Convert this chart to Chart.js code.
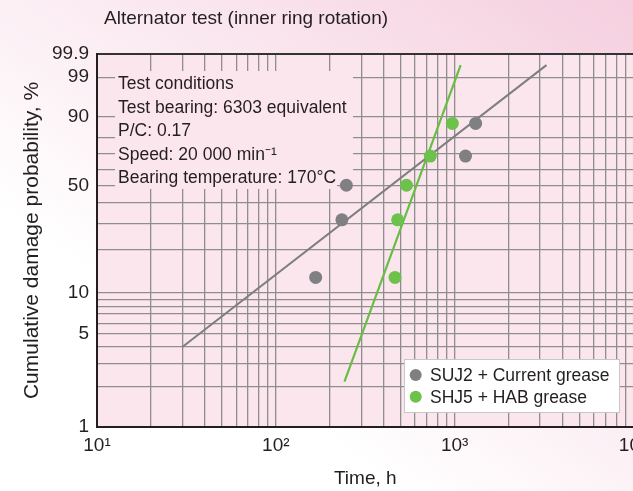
<!DOCTYPE html>
<html>
<head>
<meta charset="utf-8">
<script src="https://cdn.jsdelivr.net/npm/chart.js@4.4.1/dist/chart.umd.min.js"></script>
<style>
  html, body { margin: 0; padding: 0; overflow: hidden; }
  body { width: 633px; height: 491px; background: linear-gradient(35deg, #ffffff 30%, #f5cfdf 100%); }
</style>
</head>
<body>
<canvas id="weibull-plot" width="640" height="491"></canvas>
<script>
Chart.defaults.font.family = "'Liberation Sans', Arial, sans-serif";
Chart.defaults.color = "#231f20";

// time to damage (h) and cumulative damage probability (%)
var suj2Time = [167, 234, 248, 1150, 1310];
var suj2Prob = [12.9, 31.5, 50, 68.5, 87.1];
var shj5Time = [464, 480, 538, 731, 970];
var shj5Prob = [12.9, 31.5, 50, 68.5, 87.1];

// fitted lines, end points
var suj2FitTime = [30, 3260];
var suj2FitProb = [4.0, 99.66];
var shj5FitTime = [242, 1080];
var shj5FitProb = [2.2, 99.66];

var xGrid = [10, 20, 30, 40, 50, 60, 70, 80, 90,
             100, 200, 300, 400, 500, 600, 700, 800, 900,
             1000, 2000, 3000, 4000, 5000, 6000, 7000, 8000, 9000, 10000];
var xDecades = [10, 100, 1000, 10000];
var xLabels = ["10¹", "10²", "10³", "10⁴"];

var yGrid = [1, 2, 3, 4, 5, 6, 7, 8, 9, 10, 20, 30, 40, 50, 60, 70, 80, 90, 99, 99.9];
var yLabels = [1, 5, 10, 50, 90, 99, 99.9];

var conditions = [
    "Test conditions",
    "Test bearing: 6303 equivalent",
    "P/C: 0.17",
    "Speed: 20 000 min⁻¹",
    "Bearing temperature: 170°C"
];

var plotFill = "#fce6ee";
var textColor = "#231f20";
var gridColor = "#8e8e8e";

// Weibull probability paper: y = ln(-ln(1 - F))
function weibull(p) {
    return Math.log(-Math.log(1 - p / 100));
}

function points(t, p) {
    return t.map((x, i) => ({ x: x, y: weibull(p[i]) }));
}

var plotBackground = {
    id: "plotBackground",
    beforeDraw(chart) {
        const ctx = chart.ctx, a = chart.chartArea;
        ctx.save();
        ctx.fillStyle = plotFill;
        ctx.fillRect(a.left, a.top, a.right - a.left, a.bottom - a.top);
        ctx.fillStyle = textColor;
        ctx.font = "19px 'Liberation Sans', Arial, sans-serif";
        ctx.fillText("Alternator test (inner ring rotation)", 104, 24);
        ctx.restore();
    }
};

var conditionsBox = {
    id: "conditionsBox",
    beforeDatasetsDraw(chart) {
        const ctx = chart.ctx, a = chart.chartArea;
        const x0 = a.left + 18, y0 = a.top + 17;
        ctx.save();
        ctx.fillStyle = plotFill;
        ctx.fillRect(x0, y0, 238, 104);
        ctx.fillRect(x0, y0 + 104, 222, 14);
        ctx.fillStyle = textColor;
        ctx.font = "17.5px 'Liberation Sans', Arial, sans-serif";
        conditions.forEach((s, i) => ctx.fillText(s, x0 + 3, y0 + 18.3 + i * 23.4));
        ctx.restore();
    }
};

var legendBox = {
    id: "legendBox",
    afterDatasetsDraw(chart) {
        const ctx = chart.ctx;
        const items = chart.data.datasets.filter(d => !d.showLine);
        ctx.save();
        ctx.fillStyle = "#ffffff";
        ctx.fillRect(404, 359, 215, 53);
        ctx.strokeStyle = "#c8c8c8";
        ctx.lineWidth = 1;
        ctx.strokeRect(404.5, 359.5, 215, 53);
        ctx.font = "17.5px 'Liberation Sans', Arial, sans-serif";
        ctx.textBaseline = "middle";
        items.forEach((d, i) => {
            const y = 375 + i * 21.7;
            ctx.fillStyle = d.backgroundColor;
            ctx.beginPath();
            ctx.arc(415.7, y, 6, 0, Math.PI * 2);
            ctx.fill();
            ctx.fillStyle = textColor;
            ctx.fillText(d.label, 430, y + 1);
        });
        ctx.restore();
    }
};

new Chart(document.getElementById("weibull-plot").getContext("2d"), {
    type: "scatter",
    data: {
        datasets: [{
            label: "SUJ2 + Current grease",
            data: points(suj2Time, suj2Prob),
            backgroundColor: "#808083",
            borderWidth: 0,
            pointRadius: 6.5
        }, {
            label: "SHJ5 + HAB grease",
            data: points(shj5Time, shj5Prob),
            backgroundColor: "#6cc24a",
            borderWidth: 0,
            pointRadius: 6.5
        }, {
            label: "SUJ2 fit",
            data: points(suj2FitTime, suj2FitProb),
            showLine: true,
            borderColor: "#7e7e80",
            borderWidth: 2,
            pointRadius: 0
        }, {
            label: "SHJ5 fit",
            data: points(shj5FitTime, shj5FitProb),
            showLine: true,
            borderColor: "#68bd45",
            borderWidth: 2.2,
            pointRadius: 0
        }]
    },
    options: {
        responsive: false,
        animation: false,
        layout: {
            padding: { top: 54, right: 3, left: 0, bottom: 0 }
        },
        plugins: {
            legend: { display: false },
            tooltip: { enabled: false }
        },
        scales: {
            x: {
                type: "logarithmic",
                min: 10,
                max: 10000,
                afterBuildTicks: s => { s.ticks = xGrid.map(v => ({ value: v })); },
                afterFit: s => { s.height = 64; s.paddingLeft = 0; s.paddingRight = 0; },
                ticks: {
                    autoSkip: false,
                    maxRotation: 0,
                    padding: 7,
                    font: { size: 19 },
                    callback: v => xLabels[xDecades.indexOf(v)] || ""
                },
                grid: { color: gridColor, lineWidth: 1.3, drawTicks: false },
                border: { color: textColor, width: 2 },
                title: {
                    display: true,
                    text: "Time, h",
                    font: { size: 19 },
                    padding: { top: 0, bottom: 1 }
                }
            },
            y: {
                type: "linear",
                min: weibull(yGrid[0]),
                max: weibull(yGrid[yGrid.length - 1]),
                afterBuildTicks: s => { s.ticks = yGrid.map(p => ({ value: weibull(p) })); },
                afterFit: s => { s.width = 97; s.paddingTop = 0; s.paddingBottom = 0; },
                ticks: {
                    autoSkip: false,
                    padding: 8,
                    font: { size: 19 },
                    callback: (v, i) => yLabels.includes(yGrid[i]) ? String(yGrid[i]) : ""
                },
                grid: {
                    color: c => c.index === yGrid.length - 1 ? "#333333" : gridColor,
                    lineWidth: c => c.index === yGrid.length - 1 ? 2 : 1.3,
                    drawTicks: false
                },
                border: { color: textColor, width: 2 },
                title: {
                    display: true,
                    text: "Cumulative damage probability, %",
                    font: { size: 21 },
                    padding: { top: 20, bottom: 0 }
                }
            }
        }
    },
    plugins: [plotBackground, conditionsBox, legendBox]
});
</script>
</body>
</html>
